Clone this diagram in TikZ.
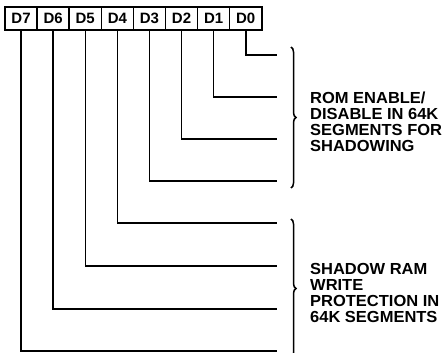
\documentclass[tikz,border=0pt]{standalone}
\usepackage{fontspec}
\setmainfont{Liberation Sans}
\newfontfamily\widefont{Liberation Sans}[FakeStretch=1.03]
\usetikzlibrary{positioning,decorations.pathreplacing}
\tikzset{
  bitbox/.style={draw,line width=1.5pt,minimum width=32.1pt,minimum height=23pt,
    inner sep=0pt,outer sep=0pt,font=\fontsize{15}{16}\selectfont\bfseries},
  wire/.style={line width=1.5pt},
  grpbrace/.style={decorate,decoration={brace,amplitude=5pt},line width=1.5pt},
  note/.style={anchor=west,align=left,inner sep=0pt,
    font=\widefont\fontsize{16}{16}\selectfont\bfseries},
}

\begin{document}
\begin{tikzpicture}[x=1pt,y=-1pt]
  \useasboundingbox (0,0) rectangle (442,353);

  % register bits
  \node[bitbox] (d7) at (21.05,18.5) {D7};
  \node[bitbox,right=0pt of d7] (d6) {D6};
  \node[bitbox,right=0pt of d6] (d5) {D5};
  \node[bitbox,right=0pt of d5] (d4) {D4};
  \node[bitbox,right=0pt of d4] (d3) {D3};
  \node[bitbox,right=0pt of d3] (d2) {D2};
  \node[bitbox,right=0pt of d2] (d1) {D1};
  \node[bitbox,right=0pt of d1] (d0) {D0};

  % line ends
  \coordinate (e0) at (277,55);
  \coordinate (e1) at (277,97);
  \coordinate (e2) at (277,139);
  \coordinate (e3) at (277,181);
  \coordinate (e4) at (277,223);
  \coordinate (e5) at (277,266);
  \coordinate (e6) at (277,309);
  \coordinate (e7) at (277,351);

  \draw[wire] (d0.south) |- (e0);
  \draw[wire] (d1.south) |- (e1);
  \draw[wire] (d2.south) |- (e2);
  \draw[wire] (d3.south) |- (e3);
  \draw[wire] (d4.south) |- (e4);
  \draw[wire] (d5.south) |- (e5);
  \draw[wire] (d6.south) |- (e6);
  \draw[wire] (d7.south) |- (e7);

  % groups
  \coordinate (romtop) at (291,47);
  \coordinate (rombot) at (291,188);
  \coordinate (ramtop) at (291,219);
  \coordinate (rambot) at (291,358);
  \draw[grpbrace] (romtop) -- (rombot);
  \draw[grpbrace] (ramtop) -- (rambot);

  \node[note] (rom) at (310,122)
    {ROM ENABLE/\\DISABLE IN 64K\\SEGMENTS FOR\\SHADOWING};
  \node[note] (ram) at (310,293)
    {SHADOW RAM\\WRITE\\PROTECTION IN\\64K SEGMENTS};
\end{tikzpicture}
\end{document}
